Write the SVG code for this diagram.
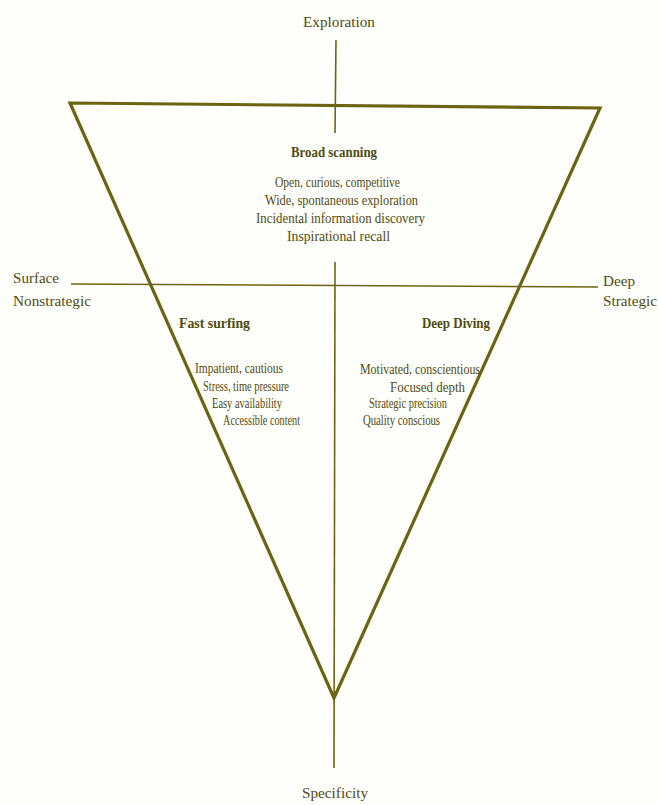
<svg xmlns="http://www.w3.org/2000/svg" width="659" height="805" viewBox="0 0 659 805">
<style>
.t{font-family:"Liberation Serif","Times New Roman",serif;font-size:15px;fill:#4f4b10}
.b{font-weight:bold;font-size:15px}
.ax{stroke:#6b6512;stroke-width:1.6;fill:none}
.tri{stroke:#6b6512;stroke-width:3.2;fill:none;stroke-linejoin:miter}
</style>
<rect width="659" height="805" fill="#fefefb"/>
<g id="connectors">
<line class="ax" x1="336" y1="40" x2="335" y2="133"/>
<line class="ax" x1="335" y1="262" x2="334" y2="768"/>
<line class="ax" x1="71" y1="284" x2="598" y2="287"/>
</g>
<g id="triangle">
<polygon class="tri" points="70,103 600,108 334,698"/>
</g>
<g id="axis-labels">
<text class="t" x="303" y="27" textLength="72" lengthAdjust="spacingAndGlyphs">Exploration</text>
<text class="t" x="302" y="798" textLength="66" lengthAdjust="spacingAndGlyphs">Specificity</text>
<text class="t" x="13" y="283" textLength="46" lengthAdjust="spacingAndGlyphs">Surface</text>
<text class="t" x="13" y="306" textLength="78" lengthAdjust="spacingAndGlyphs">Nonstrategic</text>
<text class="t" x="603" y="286" textLength="32" lengthAdjust="spacingAndGlyphs">Deep</text>
<text class="t" x="603" y="306" textLength="54" lengthAdjust="spacingAndGlyphs">Strategic</text>
</g>
<g id="broad-scanning">
<text class="t b" x="291" y="157" textLength="86" lengthAdjust="spacingAndGlyphs">Broad scanning</text>
<text class="t" x="275" y="187" textLength="125" lengthAdjust="spacingAndGlyphs">Open, curious, competitive</text>
<text class="t" x="265" y="205" textLength="153" lengthAdjust="spacingAndGlyphs">Wide, spontaneous exploration</text>
<text class="t" x="256" y="223" textLength="169" lengthAdjust="spacingAndGlyphs">Incidental information discovery</text>
<text class="t" x="287" y="241" textLength="103" lengthAdjust="spacingAndGlyphs">Inspirational recall</text>
</g>
<g id="fast-surfing">
<text class="t b" x="179" y="328" textLength="71" lengthAdjust="spacingAndGlyphs">Fast  surfing</text>
<text class="t" x="195" y="373" textLength="88" lengthAdjust="spacingAndGlyphs">Impatient, cautious</text>
<text class="t" x="203" y="391" textLength="86" lengthAdjust="spacingAndGlyphs">Stress, time pressure</text>
<text class="t" x="212" y="408" textLength="70" lengthAdjust="spacingAndGlyphs">Easy availability</text>
<text class="t" x="223" y="425" textLength="77" lengthAdjust="spacingAndGlyphs">Accessible content</text>
</g>
<g id="deep-diving">
<text class="t b" x="422" y="328" textLength="68" lengthAdjust="spacingAndGlyphs">Deep Diving</text>
<text class="t" x="360" y="374" textLength="120" lengthAdjust="spacingAndGlyphs">Motivated, conscientious</text>
<text class="t" x="390" y="392" textLength="75" lengthAdjust="spacingAndGlyphs">Focused depth</text>
<text class="t" x="369" y="408" textLength="78" lengthAdjust="spacingAndGlyphs">Strategic precision</text>
<text class="t" x="363" y="425" textLength="77" lengthAdjust="spacingAndGlyphs">Quality conscious</text>
</g>
</svg>
